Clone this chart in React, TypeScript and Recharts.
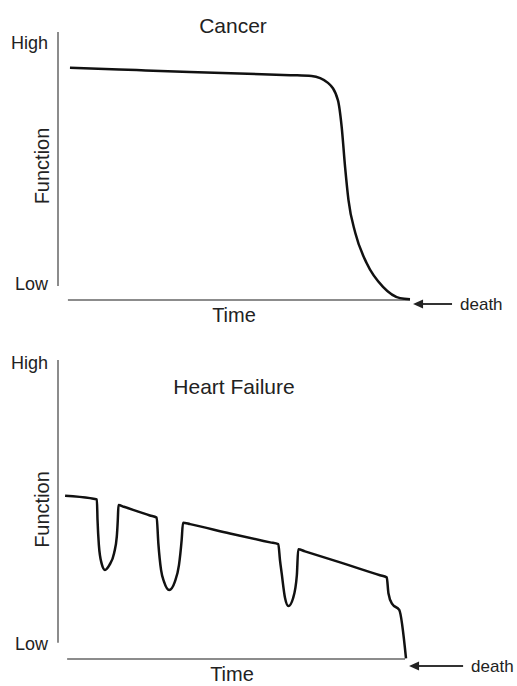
import React from 'react';
import { LineChart, Line, XAxis, YAxis, ReferenceLine } from 'recharts';

const FONT = '"Liberation Sans", Arial, Helvetica, sans-serif';

// time 0 = start of the time axis, 100 = death; function 0 = time axis level
const cancerTime = [0.5, 20, 35.6, 50, 65, 71.2, 76.0, 78.9, 80.0, 81.0, 82.0, 84.0, 87.3, 92.1, 97.1, 100];
const cancerFunction = [86.7, 85.8, 85.1, 84.5, 83.9, 83.6, 81.0, 74.6, 64.7, 49.7, 37.3, 25.0, 13.8, 4.9, 0.7, 0.3];

const heartTime = [
  -0.9, 6.5, 8.5, 8.7, 9.1, 9.9, 10.9, 12.2, 13.6, 14.4, 14.7, 14.9,
  16.5, 24.2, 26.2, 26.7, 27.5, 28.4, 29.9, 31.6, 32.8, 33.6, 34.0,
  36.1, 47.9, 59.8, 62.2, 62.7, 63.2, 64.2, 65.2, 66.6, 67.7, 68.1,
  70.1, 80.5, 92.3, 94.3, 94.8, 95.9, 98.0, 100,
];
const heartFunction = [
  54.6, 53.8, 53.4, 46.5, 38.1, 32.0, 29.8, 31.4, 35.4, 40.9, 46.5, 51.5,
  50.9, 48.0, 47.3, 38.7, 29.8, 25.8, 23.1, 25.9, 31.4, 39.8, 45.6,
  45.1, 42.0, 39.0, 38.4, 33.1, 28.7, 20.4, 17.7, 20.4, 28.1, 36.7,
  36.0, 32.3, 28.0, 27.3, 22.0, 18.4, 16.4, 0.2,
];

const yTickLabels = ['Low', 'High'];
const cancerYTicks = [6, 96];
const heartYTicks = [5, 99];

const Arrow = (props: any) => {
  const { x1, y1, x2 } = props;
  const left = Math.min(x1, x2);
  const right = Math.max(x1, x2);
  return (
    <g>
      <line x1={left + 8} y1={y1} x2={right} y2={y1} stroke="#333" strokeWidth={2} />
      <polygon
        points={`${left},${y1} ${left + 10},${y1 - 4.5} ${left + 10},${y1 + 4.5}`}
        fill="#222"
      />
    </g>
  );
};

type PanelProps = {
  title: string;
  titleTop: number;
  titleWidth: number;
  top: number;
  height: number;
  marginTop: number;
  marginRight: number;
  xAxisHeight: number;
  timeOffset: number;
  time: number[];
  values: number[];
  yTicks: number[];
  yAxisBottom: number;
  xAxisSpan: number[];
  arrowSpan: number[];
  arrowY: number;
};

const Panel = (p: PanelProps) => {
  const data = p.time.map((t, i) => ({ t, f: p.values[i] }));
  return (
    <div style={{ position: 'absolute', left: 0, top: p.top, width: 517, height: p.height }}>
      <LineChart
        width={517}
        height={p.height}
        data={data}
        margin={{ top: p.marginTop, right: p.marginRight, left: 0, bottom: 0 }}
      >
        <XAxis
          dataKey="t"
          type="number"
          domain={[-3, 100]}
          tick={false}
          tickLine={false}
          axisLine={false}
          height={p.xAxisHeight}
          label={{
            value: 'Time',
            position: 'insideTop',
            offset: p.timeOffset,
            fill: '#222',
            fontSize: 20,
            fontFamily: FONT,
          }}
        />
        <YAxis
          type="number"
          domain={[0, 100]}
          ticks={p.yTicks}
          interval={0}
          tickFormatter={(v: number, i: number) => yTickLabels[i]}
          width={58}
          tickLine={false}
          axisLine={false}
          tickSize={0}
          tickMargin={10}
          tick={{ fill: '#222', fontSize: 18, fontFamily: FONT }}
          label={{
            value: 'Function',
            angle: -90,
            position: 'center',
            dx: 13,
            fill: '#222',
            fontSize: 20,
            fontFamily: FONT,
          }}
        />
        {/* axis lines, drawn apart like in the original sketch */}
        <ReferenceLine
          segment={[{ x: -3, y: p.yAxisBottom }, { x: -3, y: 100 }]}
          stroke="#8c8c8c"
          strokeWidth={2}
          ifOverflow="visible"
        />
        <ReferenceLine
          segment={[{ x: p.xAxisSpan[0], y: 0 }, { x: p.xAxisSpan[1], y: 0 }]}
          stroke="#8c8c8c"
          strokeWidth={2}
          ifOverflow="visible"
        />
        <Line
          type="monotone"
          dataKey="f"
          stroke="#111"
          strokeWidth={2.5}
          dot={false}
          activeDot={false}
          isAnimationActive={false}
        />
        <ReferenceLine
          segment={[{ x: p.arrowSpan[0], y: p.arrowY }, { x: p.arrowSpan[1], y: p.arrowY }]}
          ifOverflow="visible"
          shape={Arrow}
          label={{
            value: 'death',
            position: 'right',
            offset: 8,
            fill: '#222',
            fontSize: 17,
            fontFamily: FONT,
          }}
        />
      </LineChart>
      <div
        style={{
          position: 'absolute',
          left: 0,
          top: p.titleTop,
          width: p.titleWidth,
          textAlign: 'center',
          fontSize: 21,
          lineHeight: '21px',
          color: '#222',
          fontFamily: FONT,
        }}
      >
        {p.title}
      </div>
    </div>
  );
};

export default function App() {
  return (
    <div
      style={{
        position: 'absolute',
        left: 0,
        top: 0,
        width: 517,
        height: 686,
        background: '#fff',
        overflow: 'hidden',
      }}
    >
      <Panel
        title="Cancer"
        titleTop={15}
        titleWidth={466}
        top={0}
        height={335}
        marginTop={32}
        marginRight={107}
        xAxisHeight={35}
        timeOffset={8}
        time={cancerTime}
        values={cancerFunction}
        yTicks={cancerYTicks}
        yAxisBottom={5.2}
        xAxisSpan={[-0.1, 100]}
        arrowSpan={[100.9, 112.3]}
        arrowY={-1.5}
      />
      <Panel
        title="Heart Failure"
        titleTop={41}
        titleWidth={468}
        top={335}
        height={351}
        marginTop={25}
        marginRight={111}
        xAxisHeight={27}
        timeOffset={8}
        time={heartTime}
        values={heartFunction}
        yTicks={heartYTicks}
        yAxisBottom={5.4}
        xAxisSpan={[-0.3, 99.7]}
        arrowSpan={[100.9, 116.9]}
        arrowY={-2.3}
      />
    </div>
  );
}
